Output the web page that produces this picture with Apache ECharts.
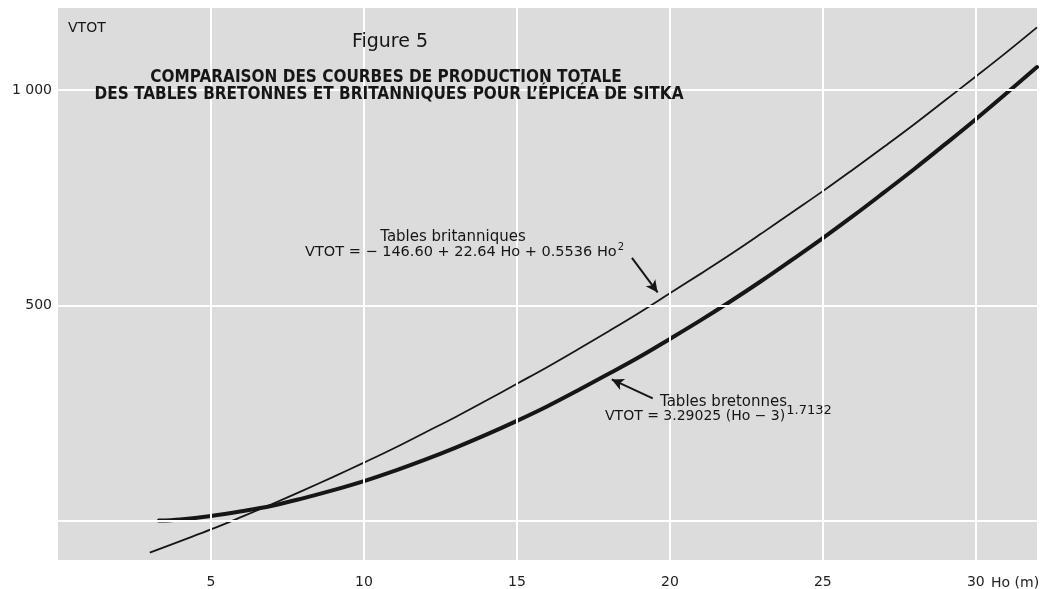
<!DOCTYPE html>
<html>
<head>
<meta charset="utf-8">
<script src="https://cdn.jsdelivr.net/npm/echarts@6/dist/echarts.min.js"></script>
<style>
html,body{margin:0;padding:0;background:#fff;}
#chart{width:1057px;height:589px;}
</style>
</head>
<body>
<div id="chart"></div>
<script>
// Tables britanniques (thin curve) — heights Ho (m) and VTOT
const britH = [3,4,5,6,7,8,9,10,11,12,13,14,15,16,17,18,19,20,21,22,23,24,25,26,27,28,29,30,31,32];
const britV = [-74,-47,-20,9,39,70,102,135,169,205,241,279,318,357,398,440,483,528,573,619,667,716,765,816,868,921,976,1031,1087,1145];
// Tables bretonnes (thick curve)
const bretH = [3.3,4,5,6,7,8,9,10,11,12,13,14,15,16,17,18,19,20,21,22,23,24,25,26,27,28,29,30,31,32];
const bretV = [0.4,3,11,22,35,52,71,92,116,142,170,200,232,266,303,341,380,422,465,510,557,606,656,708,762,817,874,932,992,1053];
// tick values / labels
const xTicks = [5,10,15,20,25,30];
const yTicks = [500,1000];
const yTickLabels = {500:'500',1000:'1 000'};
const hGrid = [0,500,1000];
// arrow annotations (data space)
const britArrow = [[18.76,610],[19.6,530]];
const bretArrow = [[19.44,284],[18.1,328]];

const FONT = '"DejaVu Sans", "Liberation Sans", sans-serif';
const ink = '#161616';

const chart = echarts.init(document.getElementById('chart'), null, {renderer:'canvas'});
const pts = (h,v)=>h.map((x,i)=>[x,v[i]]);

chart.setOption({
  animation:false,
  backgroundColor:'#ffffff',
  grid:{left:58,right:20,top:8,bottom:27,show:true,backgroundColor:'#dcdcdc',borderWidth:0},
  xAxis:{
    type:'value',min:0,max:32,
    axisLine:{show:false},axisTick:{show:false},splitLine:{show:false},
    axisLabel:{customValues:xTicks,color:'#222',fontFamily:FONT,fontSize:14,margin:15}
  },
  yAxis:{
    type:'value',min:-91,max:1190,
    axisLine:{show:false},axisTick:{show:false},splitLine:{show:false},
    axisLabel:{customValues:yTicks,formatter:v=>yTickLabels[v]||'',color:'#222',fontFamily:FONT,fontSize:14,margin:6}
  },
  series:[
    {
      type:'line',data:[],silent:true,z:1,
      markLine:{silent:true,symbol:['none','none'],label:{show:false},
        lineStyle:{color:'#ffffff',width:2,type:'solid'},
        emphasis:{disabled:true},
        data:[...xTicks.map(v=>({xAxis:v})),...hGrid.map(v=>({yAxis:v}))]}
    },
    {
      name:'Tables britanniques',type:'line',data:pts(britH,britV),
      smooth:0.4,showSymbol:false,z:3,
      lineStyle:{color:ink,width:1.8}
    },
    {
      name:'Tables bretonnes',type:'line',data:pts(bretH,bretV),
      smooth:0.4,showSymbol:false,z:3,
      lineStyle:{color:ink,width:4,cap:'round'}
    },
    {
      type:'line',data:[],silent:true,z:4,
      markLine:{silent:true,symbol:['none','arrow'],symbolSize:[9,12],label:{show:false},
        lineStyle:{color:ink,width:2,type:'solid'},
        emphasis:{disabled:true},
        data:[
          [{coord:britArrow[0]},{coord:britArrow[1]}],
          [{coord:bretArrow[0]},{coord:bretArrow[1]}]
        ]}
    }
  ],
  graphic:[
    {type:'text',z:10,style:{text:'VTOT',x:68,y:28,font:'14px '+FONT,fill:ink,align:'left',verticalAlign:'middle'}},
    {type:'text',z:10,style:{text:'Figure 5',x:390,y:42,font:'19px '+FONT,fill:ink,align:'center',verticalAlign:'middle'}},
    {type:'text',z:10,style:{text:'COMPARAISON DES COURBES DE PRODUCTION TOTALE',x:386,y:78,font:'bold 17px "DejaVu Sans Condensed", "Liberation Sans Narrow", sans-serif',fill:ink,align:'center',verticalAlign:'middle'}},
    {type:'text',z:10,style:{text:'DES TABLES BRETONNES ET BRITANNIQUES POUR L\u2019ÉPICÉA DE SITKA',x:389,y:95,font:'bold 17px "DejaVu Sans Condensed", "Liberation Sans Narrow", sans-serif',fill:ink,align:'center',verticalAlign:'middle'}},
    {type:'text',z:10,style:{text:'Tables britanniques',x:453,y:237,font:'15px '+FONT,fill:ink,align:'center',verticalAlign:'middle'}},
    {type:'text',z:10,style:{text:'VTOT = \u2212 146.60 + 22.64 Ho + 0.5536 Ho{sup|2}',x:305,y:252,font:'14.5px '+FONT,fill:ink,align:'left',verticalAlign:'middle',
      rich:{sup:{fontSize:10,fontFamily:FONT,fill:ink,padding:[0,0,10,1]}}}},
    {type:'text',z:10,style:{text:'Tables bretonnes',x:660,y:402,font:'15px '+FONT,fill:ink,align:'left',verticalAlign:'middle'}},
    {type:'text',z:10,style:{text:'VTOT = 3.29025 (Ho \u2212 3){sup|1.7132}',x:605,y:416,font:'14px '+FONT,fill:ink,align:'left',verticalAlign:'middle',
      rich:{sup:{fontSize:13,fontFamily:FONT,fill:ink,padding:[0,0,10,1]}}}},
    {type:'text',z:10,style:{text:'Ho (m)',x:991,y:583,font:'14px '+FONT,fill:'#222',align:'left',verticalAlign:'middle'}}
  ]
});
</script>
</body>
</html>
